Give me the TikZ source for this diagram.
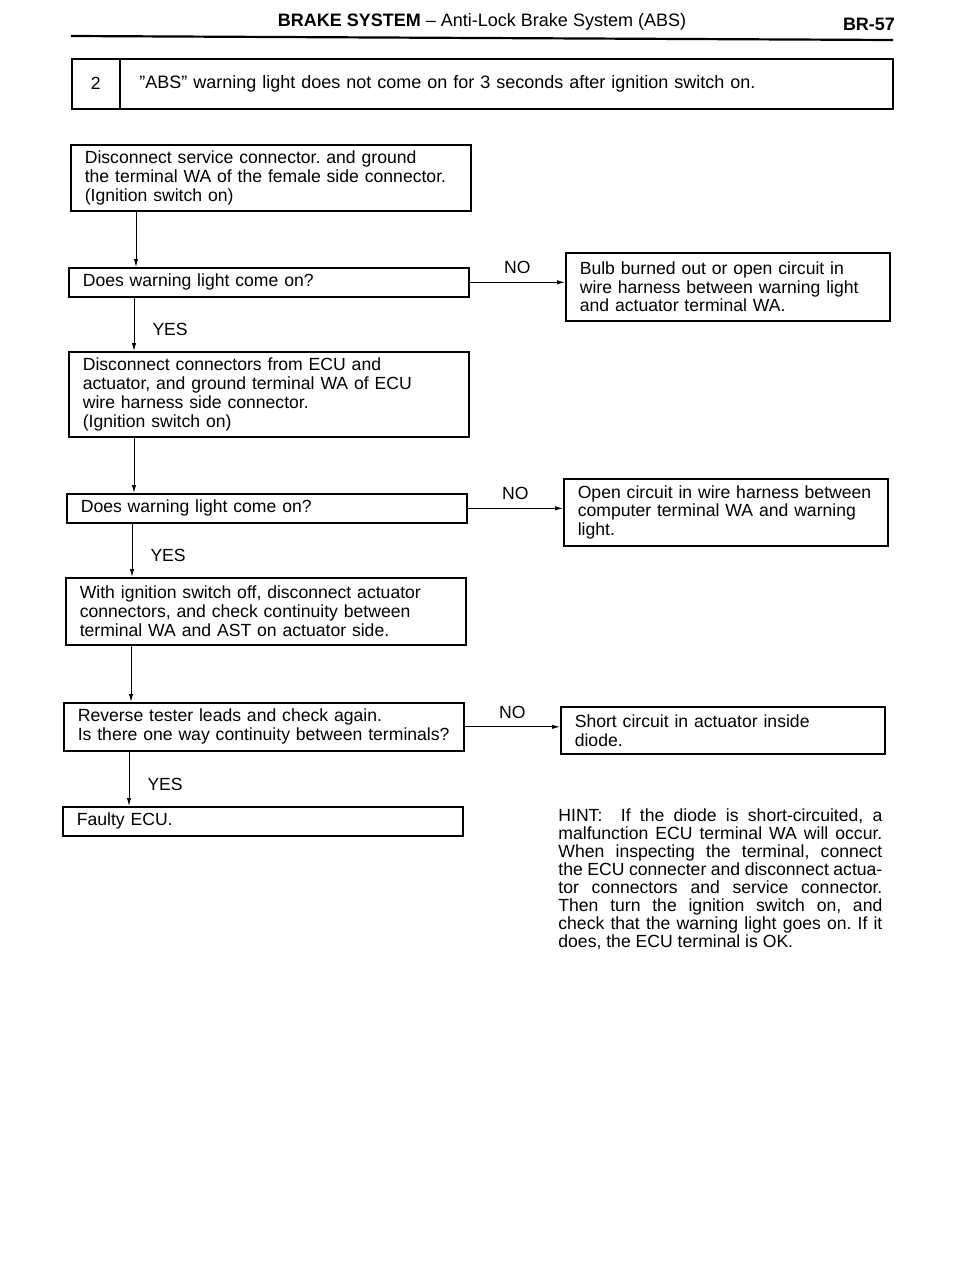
\documentclass[tikz,border=0pt]{standalone}
\usepackage{fontspec}
\setmainfont{Liberation Sans}
\usetikzlibrary{arrows.meta,positioning}

\begin{document}
\frenchspacing\hyphenpenalty=10000\relax
\begin{tikzpicture}[x=0.5pt,y=-0.5pt]
\tikzset{
  stepbox/.style={draw=black,line width=0.8pt,anchor=north west,align=left,text width=186pt,inner xsep=7pt,inner ysep=1pt,font=\fontsize{8.8}{9.4}\selectfont},
  resultbox/.style={stepbox,text width=148pt,inner xsep=7pt},
  flowedge/.style={draw=black,line width=0.5pt},
  directed/.style={flowedge,-{Latex[length=4pt,width=2.2pt]}},
  answer/.style={font=\fontsize{8.8}{9.4}\selectfont,inner sep=1pt}
}
\useasboundingbox (0,0) rectangle (960,1280);
% page head
\node[font=\fontsize{9}{11}\selectfont] (head) at (482,22) {\textbf{BRAKE SYSTEM} -- Anti-Lock Brake System (ABS)};
\node[font=\bfseries\fontsize{9}{11}\selectfont] (page) at (869,24) {BR-57};
\draw[line width=1.1pt] (71,36) -- (893,40);
% trouble
\node[stepbox,text width=24pt,align=center,minimum height=25pt,inner xsep=0pt] (num) at (71,58) {2};
\node[stepbox,text width=367pt,inner xsep=9.75pt,minimum height=25pt,font=\fontsize{9}{9.4}\selectfont] (trouble) at (119,58) {\symbol{34}ABS\symbol{34} warning light does not come on for 3 seconds after ignition switch on.};
% left column
\node[stepbox,minimum height=33pt] (b1) at (70,144) {Disconnect service connector. and ground\\the terminal WA of the female side connector.\\(Ignition switch on)};
\node[stepbox,minimum height=14.5pt] (b2) at (68,267) {Does warning light come on?};
\node[stepbox,minimum height=42.5pt] (b3) at (68,351) {Disconnect connectors from ECU and\\actuator, and ground terminal WA of ECU\\wire harness side connector.\\(Ignition switch on)};
\node[stepbox,minimum height=14.5pt] (b4) at (66,493) {Does warning light come on?};
\node[stepbox,minimum height=33.5pt] (b5) at (65,577) {With ignition switch off, disconnect actuator\\connectors, and check continuity between\\terminal WA and AST on actuator side.};
\node[stepbox,minimum height=24pt] (b6) at (63,702) {Reverse tester leads and check again.\\Is there one way continuity between terminals?};
\node[stepbox,minimum height=14.5pt] (b7) at (62,806) {Faulty ECU.};
% right column
\node[resultbox,minimum height=34pt] (r1) at (565,252) {Bulb burned out or open circuit in\\wire harness between warning light\\and actuator terminal WA.};
\node[resultbox,minimum height=33.5pt] (r2) at (563,478) {Open circuit in wire harness between\\computer terminal WA and warning\\light.};
\node[resultbox,minimum height=23.5pt] (r3) at (560,706) {Short circuit in actuator inside\\diode.};
% hint
\node[anchor=north west,text width=162pt,align=justify,inner sep=0pt,font=\fontsize{8.8}{9}\selectfont] (hint) at (558,808) {HINT:\ \ If the diode is short-circuited, a\linebreak malfunction ECU terminal WA will occur.\linebreak When inspecting the terminal, connect\linebreak the ECU connecter and disconnect actua-\linebreak tor connectors and service connector.\linebreak Then turn the ignition switch on, and\linebreak check that the warning light goes on. If it\linebreak does, the ECU terminal is OK.};
% flow
\draw[directed] ([xshift=33pt]b1.south west) -- ([xshift=33pt]b1.south west |- b2.north);
\draw[directed] ([xshift=33pt]b2.south west) -- ([xshift=33pt]b2.south west |- b3.north) node[answer,pos=0.6,right=8pt] {YES};
\draw[directed] ([xshift=33pt]b3.south west) -- ([xshift=33pt]b3.south west |- b4.north);
\draw[directed] ([xshift=33pt]b4.south west) -- ([xshift=33pt]b4.south west |- b5.north) node[answer,pos=0.6,right=8pt] {YES};
\draw[directed] ([xshift=33pt]b5.south west) -- ([xshift=33pt]b5.south west |- b6.north);
\draw[directed] ([xshift=33pt]b6.south west) -- ([xshift=33pt]b6.south west |- b7.north) node[answer,pos=0.6,right=8pt] {YES};
\draw[directed] (b2.east) -- (b2.east -| r1.west) node[answer,midway,above=3pt] {NO};
\draw[directed] (b4.east) -- (b4.east -| r2.west) node[answer,midway,above=3pt] {NO};
\draw[directed] (b6.east) -- (b6.east -| r3.west) node[answer,midway,above=3pt] {NO};
\end{tikzpicture}
\end{document}
